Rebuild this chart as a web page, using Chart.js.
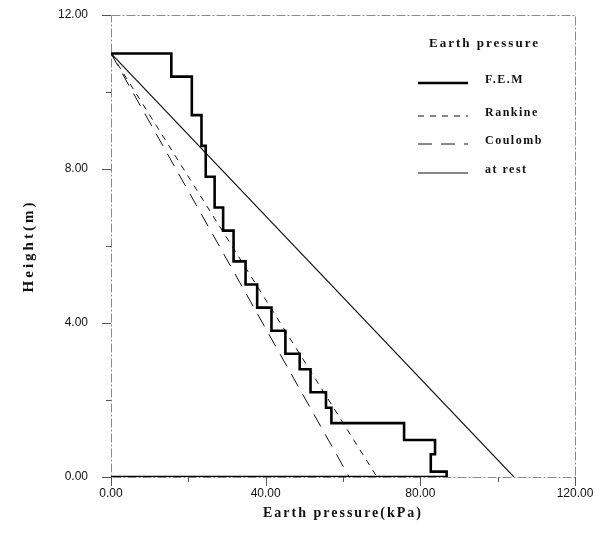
<!DOCTYPE html>
<html>
<head>
<meta charset="utf-8">
<script src="https://cdn.jsdelivr.net/npm/chart.js@4.4.0/dist/chart.umd.min.js"></script>
<style>
html, body { margin: 0; padding: 0; background: #fff; }
#wrap { width: 609px; height: 538px; }
</style>
</head>
<body>
<div id="wrap"><canvas id="chart" width="609" height="538"></canvas></div>
<script>
// valores
const femPressure = [0, 15.6, 15.6, 20.9, 20.9, 23.4, 23.4, 24.5, 24.5, 26.8, 26.8, 29.0, 29.0, 31.7, 31.7, 34.8, 34.8, 37.8, 37.8, 41.5, 41.5, 45.1, 45.1, 48.8, 48.8, 51.6, 51.6, 55.6, 55.6, 57.0, 57.0, 75.8, 75.8, 83.8, 83.8, 82.7, 82.7, 86.8, 86.8, 0];
const femHeight   = [11, 11, 10.4, 10.4, 9.4, 9.4, 8.6, 8.6, 7.8, 7.8, 7.0, 7.0, 6.4, 6.4, 5.6, 5.6, 5.0, 5.0, 4.4, 4.4, 3.8, 3.8, 3.2, 3.2, 2.8, 2.8, 2.2, 2.2, 1.8, 1.8, 1.4, 1.4, 0.96, 0.96, 0.59, 0.59, 0.14, 0.14, 0, 0];
const rankinePressure = [0, 68.8];
const rankineHeight   = [11, 0];
const coulombPressure = [0, 61.6];
const coulombHeight   = [11, 0];
const restPressure = [0, 104.2];
const restHeight   = [11, 0];

const xTicks = [0, 40, 80, 120];
const yTicks = [0, 4, 8, 12];
const xMinor = [20, 60, 100];
const yMinor = [2, 6, 10];
const seriesNames = ['F.E.M', 'Rankine', 'Coulomb', 'at rest'];
const legendTitle = 'Earth pressure';
const xTitle = 'Earth pressure(kPa)';
const yTitle = 'Height(m)';

function toPoints(xs, ys) {
    return xs.map((x, i) => ({ x: x, y: ys[i] }));
}

const serif = '"Liberation Serif", "DejaVu Serif", serif';
const sans = '"Liberation Sans", Arial, sans-serif';

// marco, marcas de ejes
const framePlugin = {
    id: 'frame',
    beforeDatasetsDraw(chart) {
        const { ctx, chartArea: a, scales: { x, y } } = chart;
        ctx.save();
        ctx.strokeStyle = '#8a8a8a';
        ctx.lineWidth = 1;
        ctx.setLineDash([9, 2, 2, 2]);
        ctx.strokeRect(a.left + 0.5, a.top + 0.5, a.right - a.left, a.bottom - a.top);
        ctx.setLineDash([]);
        ctx.strokeStyle = '#555';
        ctx.beginPath();
        xTicks.forEach(v => {
            const px = Math.round(x.getPixelForValue(v)) + 0.5;
            ctx.moveTo(px, a.bottom); ctx.lineTo(px, a.bottom + 9);
        });
        xMinor.forEach(v => {
            const px = Math.round(x.getPixelForValue(v)) + 0.5;
            ctx.moveTo(px, a.bottom); ctx.lineTo(px, a.bottom + 5);
        });
        yTicks.forEach(v => {
            const py = Math.round(y.getPixelForValue(v)) + 0.5;
            ctx.moveTo(a.left, py); ctx.lineTo(a.left - 9, py);
        });
        yMinor.forEach(v => {
            const py = Math.round(y.getPixelForValue(v)) + 0.5;
            ctx.moveTo(a.left, py); ctx.lineTo(a.left - 5, py);
        });
        ctx.stroke();
        ctx.restore();
    },
    afterDraw(chart) {
        const { ctx, chartArea: a } = chart;
        ctx.save();
        ctx.fillStyle = '#111';
        ctx.font = 'bold 14px ' + serif;
        ctx.letterSpacing = '2px';
        ctx.textAlign = 'center';
        ctx.textBaseline = 'middle';
        ctx.fillText(xTitle, (a.left + a.right) / 2, 513);
        ctx.translate(29, (a.top + a.bottom) / 2);
        ctx.rotate(-Math.PI / 2);
        ctx.letterSpacing = '3px';
        ctx.font = 'bold 15px ' + serif;
        ctx.fillText(yTitle, 0, 0);
        ctx.restore();
    }
};

// leyenda dentro del area
const legendPlugin = {
    id: 'innerLegend',
    afterDatasetsDraw(chart) {
        const { ctx } = chart;
        ctx.save();
        ctx.fillStyle = '#111';
        ctx.textBaseline = 'middle';
        ctx.textAlign = 'left';
        ctx.font = 'bold 13px ' + serif;
        ctx.letterSpacing = '2px';
        ctx.fillText(legendTitle, 429, 44);
        const rows = [80, 113, 141, 170];
        ctx.font = 'bold 12px ' + serif;
        ctx.letterSpacing = '1.5px';
        chart.data.datasets.forEach((ds, i) => {
            const yy = rows[i];
            ctx.strokeStyle = ds.borderColor;
            ctx.lineWidth = ds.borderWidth;
            ctx.setLineDash(ds.borderDash || []);
            ctx.beginPath();
            ctx.moveTo(418, yy + 3);
            ctx.lineTo(468, yy + 3);
            ctx.stroke();
            ctx.setLineDash([]);
            ctx.fillText(ds.label, 485, yy);
        });
        ctx.restore();
    }
};

const ctx = document.getElementById('chart').getContext('2d');
new Chart(ctx, {
    type: 'scatter',
    data: {
        datasets: [{
            label: seriesNames[0],
            data: toPoints(femPressure, femHeight),
            borderColor: '#000',
            borderWidth: 2.6,
            borderDash: []
        }, {
            label: seriesNames[1],
            data: toPoints(rankinePressure, rankineHeight),
            borderColor: '#111',
            borderWidth: 1,
            borderDash: [6, 6]
        }, {
            label: seriesNames[2],
            data: toPoints(coulombPressure, coulombHeight),
            borderColor: '#111',
            borderWidth: 1,
            borderDash: [14, 9]
        }, {
            label: seriesNames[3],
            data: toPoints(restPressure, restHeight),
            borderColor: '#111',
            borderWidth: 1.1,
            borderDash: []
        }].map(ds => Object.assign(ds, { showLine: true, pointRadius: 0, fill: false, tension: 0 }))
    },
    options: {
        responsive: false,
        animation: false,
        layout: { padding: { left: 0, right: 34, top: 15, bottom: 0 } },
        plugins: {
            legend: { display: false },
            tooltip: { enabled: false }
        },
        scales: {
            x: {
                type: 'linear',
                min: 0,
                max: 120,
                afterBuildTicks: s => { s.ticks = xTicks.map(v => ({ value: v })); },
                afterFit: s => { s.height = 61; },
                ticks: {
                    callback: v => v.toFixed(2),
                    font: { family: sans, size: 12 },
                    color: '#111',
                    padding: 1,
                    maxRotation: 0
                },
                grid: { display: false, tickLength: 8 },
                border: { display: false }
            },
            y: {
                type: 'linear',
                min: 0,
                max: 12,
                afterBuildTicks: s => { s.ticks = yTicks.map(v => ({ value: v })); },
                afterFit: s => { s.width = 111; },
                ticks: {
                    callback: v => v.toFixed(2),
                    font: { family: sans, size: 12 },
                    color: '#111',
                    padding: 1
                },
                grid: { display: false, tickLength: 22 },
                border: { display: false }
            }
        }
    },
    plugins: [framePlugin, legendPlugin]
});
</script>
</body>
</html>
